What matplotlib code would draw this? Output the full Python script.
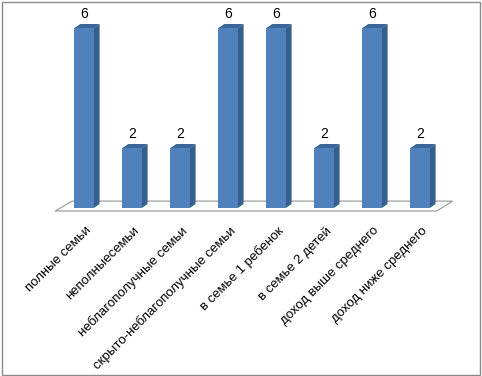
import matplotlib
matplotlib.use('Agg')
import matplotlib.pyplot as plt
from matplotlib.patches import Polygon, Rectangle

kategorii = ['полные семьи', 'неполныесемьи', 'неблагополучные семьи',
             'скрыто-неблагополучные семьи', 'в семье 1 ребенок',
             'в семье 2 детей', 'доход выше среднего', 'доход ниже среднего']
znacheniya = [6, 2, 2, 6, 6, 2, 6, 2]

plt.rcParams['font.family'] = ['Liberation Sans', 'DejaVu Sans']

fig = plt.figure(figsize=(4.82, 3.76), dpi=100)
ax = fig.add_axes([0, 0, 1, 1])
# 1 категория = 48 px, 1 единица = 30 px
ax.set_xlim((0 - 84) / 48, (482 - 84) / 48)
ax.set_ylim((208 - 376) / 30, (208 - 0) / 30)
ax.axis('off')

shirina = 0.40
dx, dy = 6 / 48, 4 / 30
n = len(znacheniya)

# пол
pol = Polygon([(-0.6, -0.1), (n - 1 + 0.35, -0.1),
               (n - 1 + 0.35 + 0.33, 0.23), (-0.6 + 0.35, 0.23)],
              closed=True, facecolor='white', edgecolor='#a0a0a0', lw=0.9, zorder=1)
ax.add_patch(pol)

for i, v in enumerate(znacheniya):
    l, r = i - shirina / 2, i + shirina / 2
    ax.add_patch(Polygon([(r, 0), (r + dx, dy), (r + dx, v + dy), (r, v)],
                         closed=True, facecolor='#385e8c', edgecolor='none', zorder=2))
    ax.add_patch(Polygon([(l, v), (r, v), (r + dx, v + dy), (l + dx, v + dy)],
                         closed=True, facecolor='#3d6698', edgecolor='none', zorder=2))
ax.bar(range(n), znacheniya, width=shirina, color='#4f81bd', zorder=3)

for i, v in enumerate(znacheniya):
    ax.text(i + 0.0, v + 0.25, str(v), ha='center', va='bottom', fontsize=10, color='black')

for i, k in enumerate(kategorii):
    ax.text(i + 0.02, -0.55, k, rotation=45, rotation_mode='anchor',
            ha='right', va='top', fontsize=9.5, color='black')

fig.patches.append(Rectangle((1.5 / 482, 1.5 / 376), 478.5 / 482, 373 / 376,
                             transform=fig.transFigure, fill=False,
                             edgecolor='#8a8a8a', lw=1))

fig.savefig('out.png', dpi=100, facecolor='white')
